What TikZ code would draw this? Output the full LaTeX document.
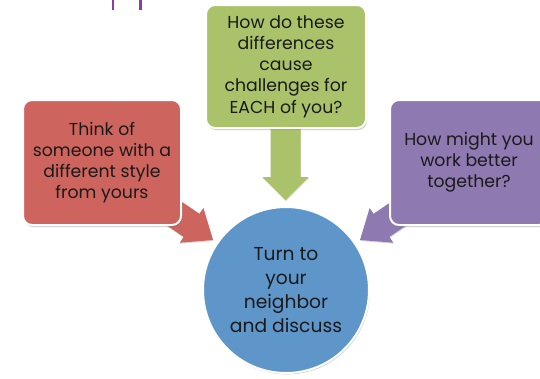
\documentclass[tikz,border=0pt]{standalone}
\usepackage{fontspec}
\setmainfont{Poppins}
\usetikzlibrary{shadows}
\definecolor{boxgreen}{HTML}{AAC36B}
\definecolor{boxred}{HTML}{CD645D}
\definecolor{boxpurple}{HTML}{8F79B1}
\definecolor{circblue}{HTML}{5F96C9}
\definecolor{titlepurple}{HTML}{8E3BA9}
\definecolor{txt}{HTML}{1A1A1A}
\tikzset{
  box/.style={rectangle, rounded corners=9pt, draw=white, line width=2pt,
    align=center, text=txt, font=\fontsize{17.3}{21.2}\selectfont,
    drop shadow={shadow xshift=1pt, shadow yshift=-2pt, opacity=0.35, fill=black!60}},
  circ/.style={circle, draw=white, line width=2pt, fill=circblue, align=center,
    text=txt, font=\fontsize{18.7}{24}\selectfont, minimum size=166pt, inner sep=0pt,
    drop shadow={shadow xshift=1pt, shadow yshift=-1.5pt, opacity=0.3, fill=black!60}},
  blockarrow/.style={drop shadow={shadow xshift=0.5pt, shadow yshift=-1pt, opacity=0.25, fill=black!60}}
}
\begin{document}
\begin{tikzpicture}[x=1pt,y=-1pt]
\useasboundingbox (0,0) rectangle (540,378);
\clip (0,0) rectangle (540,378);
% title fragments
\draw[titlepurple, line width=2.2pt] (113,0) -- (113,10);
\draw[titlepurple, line width=2.2pt] (140.5,0) -- (140.5,10);
% arrow tips
\coordinate (gtip) at (285.5,200);
\coordinate (rtip) at (213,240);
\coordinate (ptip) at (360,240);
% block arrows (behind boxes)
\fill[boxgreen, blockarrow, shift={(gtip)}, rotate=-90]
  (0,0) -- (-23,-23) -- (-23,-15) -- (-80,-15) -- (-80,15) -- (-23,15) -- (-23,23) -- cycle;
\fill[boxred, blockarrow, shift={(rtip)}, rotate=-34.3]
  (0,0) -- (-26,-21) -- (-26,-14) -- (-75,-14) -- (-75,14) -- (-26,14) -- (-26,21) -- cycle;
\fill[boxpurple, blockarrow, shift={(ptip)}, rotate=214.3]
  (0,0) -- (-26,-21) -- (-26,-14) -- (-75,-14) -- (-75,14) -- (-26,14) -- (-26,21) -- cycle;
% boxes
\node[box, fill=boxgreen, minimum width=160pt, minimum height=123pt] (green) at (286,66.5)
  {How do these\\differences\\cause\\challenges for\\EACH of you?};
\node[box, fill=boxred, minimum width=158pt, minimum height=125pt] (red) at (102,162.5)
  {Think of\\someone with a\\different style\\from yours};
\node[box, fill=boxpurple, minimum width=158pt, minimum height=125pt] (purple) at (469,162.5)
  {How might you\\work better\\together?};
% circle
\node[circ] (center) at (286,290) {Turn to\\your\\neighbor\\and discuss};
\end{tikzpicture}
\end{document}
